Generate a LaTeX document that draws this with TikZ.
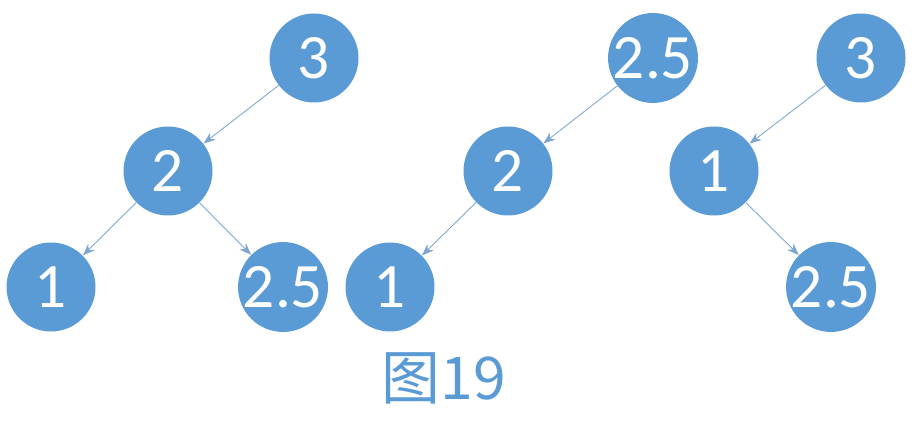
\documentclass[tikz,border=0pt]{standalone}
\usepackage{fontspec}
\setmainfont{Carlito}
\newfontfamily\cjk{Noto Sans CJK SC}
\usetikzlibrary{arrows.meta}
\definecolor{nodeblue}{HTML}{5B9BD5}
\definecolor{edgeblue}{HTML}{7EA6D2}
\tikzset{
    vertex/.style={circle, fill=nodeblue, draw=none, inner sep=0pt,
    	minimum size=1.78cm, text=white, font=\fontsize{36}{38}\selectfont}
}
\tikzset{
    every edge/.append style={draw=edgeblue, line width=0.5pt,
    	-{Stealth[length=2.4mm, width=1.8mm]}}
}

\begin{document}
\begin{tikzpicture}
	\useasboundingbox (0,0) rectangle (18.28cm,8.96cm);
	% first tree
	\node (a3) [vertex] at (6.28cm,7.8cm) {3};
	\node (a2) [vertex] at (3.36cm,5.54cm) {2};
	\node (a1) [vertex] at (1.02cm,3.22cm) {1};
	\node (a25) [vertex] at (5.66cm,3.22cm) {2.5};
	% second tree
	\node (b25) [vertex] at (13.06cm,7.8cm) {2.5};
	\node (b2) [vertex] at (10.16cm,5.54cm) {2};
	\node (b1) [vertex] at (7.8cm,3.22cm) {1};
	% third tree
	\node (c3) [vertex] at (17.22cm,7.8cm) {3};
	\node (c1) [vertex] at (14.28cm,5.54cm) {1};
	\node (c25) [vertex] at (16.62cm,3.22cm) {2.5};

	\node (caption) [text=nodeblue, font=\cjk\fontsize{33.5}{36}\selectfont]
		at (8.88cm,1.4cm) {图19};

	\draw (a3) edge (a2); \draw (a2) edge (a1); \draw (a2) edge (a25);
	\draw (b25) edge (b2); \draw (b2) edge (b1);
	\draw (c3) edge (c1); \draw (c1) edge (c25);
\end{tikzpicture}
\end{document}
